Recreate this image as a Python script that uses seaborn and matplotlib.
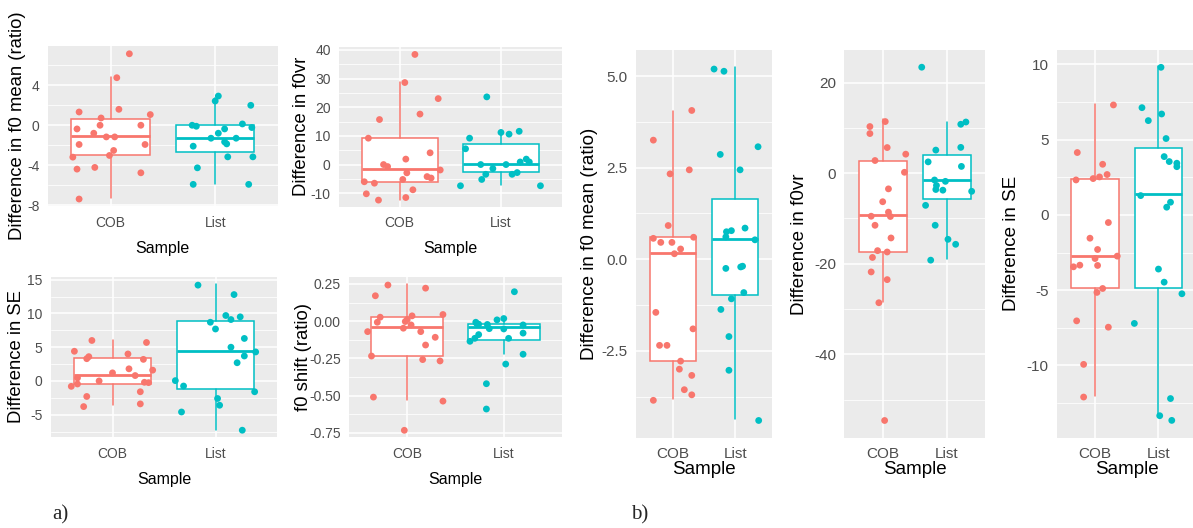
import numpy as np
import pandas as pd
import seaborn as sns
import matplotlib.pyplot as plt
from matplotlib.ticker import FixedLocator

samples = ["COB", "List"]
palette = {"COB": "#F8766D", "List": "#00BFC4"}

# --- a) top-left: difference in f0 mean (ratio)
a1_cob = [7.17, 4.77, 1.33, 1.6, 0.73, 1.07, -0.37, 0.0, 0.0, -0.8, -1.17, -1.17, -1.93, -1.93,
          -2.53, -3.2, -3.03, -4.4, -4.23, -4.77, -7.4]
a1_cob_jit = [0.18, 0.06, -0.3, 0.08, -0.09, 0.38, -0.32, -0.1, 0.29, -0.16, -0.04, 0.04, -0.3, 0.33,
              0.03, -0.36, -0.01, -0.32, -0.15, 0.29, -0.3]
a1_list = [2.93, 2.43, 2.0, 0.0, -0.1, 0.13, -0.23, -0.37, -0.8, -1.3, -1.3, -1.67, -1.87, -2.1,
           -3.17, -3.17, -4.27, -5.93, -5.93]
a1_list_jit = [0.03, 0.0, 0.34, -0.22, -0.18, 0.26, 0.35, 0.09, 0.03, -0.04, 0.2, 0.09, 0.11, -0.21,
               0.12, 0.36, -0.17, -0.21, 0.32]
a1_box = {"COB": [-7.33, -3.0, -1.07, 0.67, 4.83], "List": [-5.87, -2.67, -1.27, 0.0, 2.77]}

# --- a) top-right: difference in f0vr
a2_cob = [38.4, 28.6, 23.0, 17.6, 15.7, 9.2, 4.1, 1.9, 0.0, -0.7, -1.9, -2.9, -5.2, -4.2, -4.7,
          -6.0, -6.5, -8.8, -10.2, -11.5, -12.4]
a2_cob_jit = [0.15, 0.05, 0.38, 0.2, -0.2, -0.31, 0.3, 0.06, -0.16, -0.12, 0.4, 0.07, 0.03, 0.27, 0.31,
              -0.35, -0.25, 0.13, -0.33, 0.06, -0.21]
a2_list = [23.6, 9.2, 11.2, 10.6, 11.6, 5.5, 0.0, 0.0, -1.4, 0.9, 1.9, 0.9, -3.4, -3.4, -2.8,
           -5.2, -7.4, -7.4]
a2_list_jit = [-0.14, -0.31, 0.0, 0.08, 0.18, -0.35, -0.2, 0.05, -0.08, 0.19, 0.25, 0.28, -0.15, 0.11,
               0.16, -0.19, -0.4, 0.39]
a2_box = {"COB": [-12.2, -6.0, -1.7, 9.2, 28.8], "List": [-7.1, -2.7, 0.35, 7.3, 10.2]}

# --- a) bottom-left: difference in SE
a3_cob = [6.0, 5.7, 4.4, 4.0, 3.6, 3.3, 3.2, 1.8, 1.6, 1.2, 0.8, 0.45, 0.0, -0.45, -0.8, -0.2,
          -0.25, -1.6, -2.3, -3.4, -3.8]
a3_cob_jit = [-0.2, 0.33, -0.37, 0.15, -0.23, -0.25, 0.3, 0.16, 0.39, 0.0, 0.22, -0.34, -0.13, -0.34,
              -0.4, 0.31, 0.35, 0.27, -0.25, 0.27, -0.28]
a3_list = [14.2, 12.8, 8.7, 7.7, 9.7, 9.1, 9.5, 6.3, 5.0, 4.3, 3.7, 2.7, 0.05, -0.75, -1.6, -2.6,
           -3.6, -4.6, -7.3]
a3_list_jit = [-0.17, 0.18, -0.05, 0.0, 0.1, 0.15, 0.24, 0.28, 0.15, 0.39, 0.28, 0.21, -0.39, -0.31,
               0.38, 0.02, 0.04, -0.33, 0.26]
a3_box = {"COB": [-3.6, -0.4, 0.9, 3.37, 6.0], "List": [-7.2, -1.2, 4.45, 8.9, 14.3]}

# --- a) bottom-right: f0 shift (ratio)
a4_cob = [0.243, 0.222, 0.171, 0.045, 0.027, 0.036, -0.007, 0.011, -0.002, -0.047, -0.025, -0.07,
          -0.07, -0.108, -0.16, -0.234, -0.258, -0.267, -0.51, -0.537, -0.733]
a4_cob_jit = [-0.2, 0.19, -0.33, 0.37, -0.28, 0.05, -0.31, 0.0, -0.02, -0.04, 0.04, -0.41, 0.14,
              0.29, 0.19, -0.37, 0.16, 0.34, -0.35, 0.37, -0.03]
a4_list = [0.198, -0.007, -0.016, -0.02, -0.022, 0.009, 0.018, -0.05, -0.052, -0.025, -0.09,
           -0.115, -0.135, -0.115, -0.08, -0.222, -0.288, -0.42, -0.59]
a4_list_jit = [0.11, -0.29, -0.28, -0.26, -0.17, -0.07, 0.0, -0.15, 0.0, 0.2, -0.26, -0.3, -0.35,
               0.05, 0.2, 0.2, 0.02, -0.18, -0.18]
a4_box = {"COB": [-0.53, -0.236, -0.04, 0.025, 0.25], "List": [-0.218, -0.124, -0.036, -0.016, 0.018]}

# --- b) difference in f0 mean (ratio)
b1_cob = [4.06, 3.25, 2.33, 2.44, 0.92, 0.57, 0.6, 0.46, 0.46, 0.28, 0.15, -1.45, -1.9, -2.35,
          -2.35, -2.78, -3.0, -3.17, -3.56, -3.85, -3.7]
b1_cob_jit = [0.3, -0.32, -0.05, 0.26, -0.08, -0.32, 0.33, -0.2, -0.02, 0.12, 0.02, -0.28, 0.32,
              -0.22, -0.1, 0.12, 0.1, 0.3, 0.18, -0.32, 0.3]
b1_list = [5.19, 5.13, 3.07, 2.86, 2.44, 0.85, 0.78, 0.75, 0.61, 0.53, -0.25, -0.21, -0.19, -0.91,
           -1.08, -1.37, -2.11, -3.03, -4.4]
b1_list_jit = [-0.34, -0.18, 0.37, -0.24, 0.08, 0.16, -0.06, -0.14, -0.15, 0.32, -0.15, 0.09, 0.12,
               0.14, -0.06, -0.23, -0.1, -0.1, 0.38]
b1_box = {"COB": [-3.82, -2.79, 0.17, 0.61, 4.04], "List": [-4.37, -0.98, 0.55, 1.65, 5.25]}

# --- b) difference in f0vr
b2_cob = [11.4, 10.3, 8.75, 5.66, 4.2, 2.8, 0.2, -3.46, -6.3, -8.6, -9.5, -9.56, -11.5, -14.3,
          -17.1, -17.4, -18.6, -21.8, -23.5, -28.6, -54.6]
b2_cob_jit = [0.04, -0.2, -0.2, 0.07, 0.36, -0.12, 0.34, 0.09, 0.0, 0.09, -0.18, 0.12, -0.12, 0.13,
              -0.08, 0.07, -0.16, -0.18, 0.07, -0.06, 0.03]
b2_list = [23.4, 11.3, 10.8, 5.7, 5.1, 2.5, 1.5, -1.5, -1.8, -2.7, -3.6, -3.75, -4.0, -7.1, -11.5,
           -14.6, -15.7, -19.2]
b2_list_jit = [-0.39, 0.3, 0.22, 0.22, -0.17, -0.29, 0.23, -0.19, -0.02, -0.16, -0.17, -0.06, 0.39,
               -0.33, -0.18, 0.02, 0.14, -0.25]
b2_box = {"COB": [-28.5, -17.4, -9.3, 2.7, 11.9], "List": [-19.0, -5.7, -1.5, 4.0, 11.4]}

# --- b) difference in SE
b3_cob = [7.3, 4.14, 3.36, 2.32, 2.41, 2.52, 2.68, -0.51, -1.55, -2.3, -2.9, -3.36, -3.45, -3.34,
          -2.74, -4.89, -5.15, -7.04, -7.46, -9.93, -12.1]
b3_cob_jit = [0.29, -0.28, 0.12, -0.3, -0.03, 0.07, 0.19, 0.21, -0.08, 0.04, 0.0, 0.04, -0.34, -0.24,
              0.35, 0.12, 0.03, -0.29, 0.21, -0.18, -0.18]
b3_list = [9.8, 7.12, 6.7, 6.26, 5.07, 3.87, 3.54, 3.43, 3.2, 1.28, 0.84, 0.51, -3.6, -4.47, -5.24,
           -7.21, -12.2, -13.34, -13.65]
b3_list_jit = [0.04, -0.26, 0.05, -0.16, 0.12, 0.09, 0.17, 0.29, 0.29, -0.28, 0.19, 0.13, 0.0, 0.09,
               0.37, -0.38, 0.19, 0.02, 0.21]
b3_box = {"COB": [-12.06, -4.89, -2.72, 2.39, 7.35], "List": [-13.3, -4.89, 1.39, 4.47, 9.9]}

W, H = 1193, 528

sns.set_theme(style="darkgrid")
plt.rcParams["font.family"] = ["Liberation Sans", "DejaVu Sans"]
plt.rcParams["axes.unicode_minus"] = False

fig = plt.figure(figsize=(W / 100, H / 100), dpi=100)


def panel(px, cob, cob_jit, lst, lst_jit, box, ylim, major, minor, ylabel, fmt,
          ylab_x, xlab_dy, fs_tick, fs_x, fs_y):
    x0, y0, x1, y1 = px
    ax = fig.add_axes([x0 / W, 1 - y1 / H, (x1 - x0) / W, (y1 - y0) / H])
    ax.set_facecolor("#EBEBEB")
    ax.set_axisbelow(True)

    # boxes without outliers, like ggplot with outlier.shape = NA
    for i, s in enumerate(samples):
        lo, q1, med, q3, hi = box[s]
        c = palette[s]
        ax.bxp([{"whislo": lo, "q1": q1, "med": med, "q3": q3, "whishi": hi, "fliers": []}],
               positions=[i], widths=0.75, showfliers=False, showcaps=False,
               patch_artist=True, manage_ticks=False,
               boxprops=dict(facecolor="white", edgecolor=c, linewidth=1.1),
               whiskerprops=dict(color=c, linewidth=1.1),
               medianprops=dict(color=c, linewidth=2.0))

    df = pd.DataFrame({
        "Sample": ["COB"] * len(cob) + ["List"] * len(lst),
        "pos": [0 + j for j in cob_jit] + [1 + j for j in lst_jit],
        "value": cob + lst,
    })
    sns.scatterplot(data=df, x="pos", y="value", hue="Sample", palette=palette,
                    s=24, linewidth=0, legend=False, ax=ax, zorder=3)

    ax.set_xlim(-0.6, 1.6)
    ax.set_ylim(*ylim)
    ax.set_xticks([0, 1])
    ax.set_xticklabels(samples)
    ax.set_yticks(major)
    ax.set_yticklabels([fmt.format(v) for v in major])
    ax.yaxis.set_minor_locator(FixedLocator(minor))
    ax.grid(which="major", color="white", linewidth=1.1)
    ax.grid(which="minor", axis="y", color="white", linewidth=0.55)
    ax.tick_params(which="major", length=3, width=0.9, color="#333333",
                   labelcolor="#4D4D4D", labelsize=fs_tick, pad=3)
    ax.tick_params(axis="x", pad=4)
    ax.tick_params(which="minor", length=0)
    for sp in ax.spines.values():
        sp.set_visible(False)

    ax.set_xlabel("Sample", fontsize=fs_x, color="black")
    ax.set_ylabel(ylabel, fontsize=fs_y, color="black")
    ax.yaxis.label.set_va("center")
    ax.xaxis.label.set_va("center")
    ax.yaxis.set_label_coords((ylab_x - x0) / (x1 - x0), 0.5)
    ax.xaxis.set_label_coords(0.5, -xlab_dy / (y1 - y0))
    return ax


panel((47.7, 46, 278, 206), a1_cob, a1_cob_jit, a1_list, a1_list_jit, a1_box,
      (-8.1, 7.95), [-8, -4, 0, 4], [-6, -2, 2, 6],
      "Difference in f0 mean (ratio)", "{:.0f}", 18, 42, 10, 11.5, 13.3)
panel((339, 46.7, 561.7, 206.7), a2_cob, a2_cob_jit, a2_list, a2_list_jit, a2_box,
      (-14.7, 41.1), [-10, 0, 10, 20, 30, 40], [-5, 5, 15, 25, 35],
      "Difference in f0vr", "{:.0f}", 302, 42, 10, 11.5, 13.3)
panel((50.7, 276.7, 277.3, 437.3), a3_cob, a3_cob_jit, a3_list, a3_list_jit, a3_box,
      (-8.35, 15.45), [-5, 0, 5, 10, 15], [-7.5, -2.5, 2.5, 7.5, 12.5],
      "Difference in SE", "{:.0f}", 17, 42, 10, 11.5, 13.3)
panel((349.3, 277.3, 561.7, 437.3), a4_cob, a4_cob_jit, a4_list, a4_list_jit, a4_box,
      (-0.78, 0.295), [-0.75, -0.5, -0.25, 0, 0.25], [-0.625, -0.375, -0.125, 0.125],
      "f0 shift (ratio)", "{:.2f}", 303, 42, 10, 11.5, 13.3)
panel((636, 50, 772.3, 437.7), b1_cob, b1_cob_jit, b1_list, b1_list_jit, b1_box,
      (-4.87, 5.71), [-2.5, 0, 2.5, 5], [-3.75, -1.25, 1.25, 3.75],
      "Difference in f0 mean (ratio)", "{:.1f}", 590, 32, 11, 13.5, 13.5)
panel((844.3, 50, 985.1, 437.7), b2_cob, b2_cob_jit, b2_list, b2_list_jit, b2_box,
      (-58.4, 27.2), [-40, -20, 0, 20], [-50, -30, -10, 10],
      "Difference in f0vr", "{:.0f}", 800, 32, 11, 13.5, 13.5)
panel((1057, 50, 1196.5, 437.7), b3_cob, b3_cob_jit, b3_list, b3_list_jit, b3_box,
      (-14.8, 10.95), [-10, -5, 0, 5, 10], [-12.5, -7.5, -2.5, 2.5, 7.5],
      "Difference in SE", "{:.0f}", 1012, 32, 11, 13.5, 13.5)

fig.text(60 / W, 1 - 515 / H, "a)", family="Liberation Serif", fontsize=15,
         ha="center", va="center")
fig.text(640 / W, 1 - 515 / H, "b)", family="Liberation Serif", fontsize=15,
         ha="center", va="center")

fig.savefig("out.png", dpi=100)
